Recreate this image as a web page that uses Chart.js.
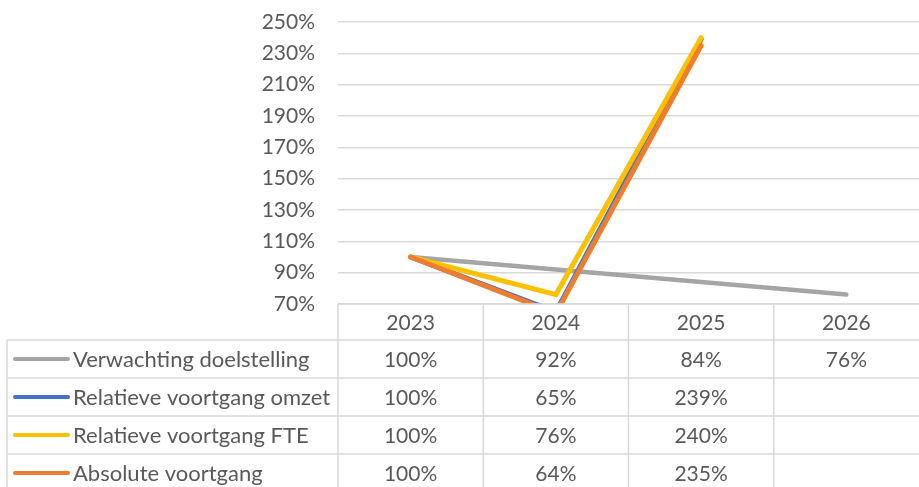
<!DOCTYPE html>
<html>
<head>
<meta charset="utf-8">
<script src="https://cdn.jsdelivr.net/npm/chart.js@4"></script>
<style>
  html, body { margin: 0; padding: 0; background: #fff; }
  #wrap { width: 919px; height: 487px; }
</style>
</head>
<body>
<div id="wrap"><canvas id="myChart" width="919" height="487"></canvas></div>
<script>
// data
var years = ["2023", "2024", "2025", "2026"];
var seriesNames = ["Verwachting doelstelling", "Relatieve voortgang omzet", "Relatieve voortgang FTE", "Absolute voortgang"];
var verwachting = [100, 92, 84, 76];
var omzet = [100, 65, 239, null];
var fte = [100, 76, 240, null];
var absoluut = [100, 64, 235, null];
var yTicks = [70, 90, 110, 130, 150, 170, 190, 210, 230, 250];

var colors = ["#A5A5A5", "#4472C4", "#FFC000", "#ED7D31"];
var textColor = "#595959";
var lineColor = "#D9D9D9";
var fontFam = "Lato, 'Liberation Sans', sans-serif";

// table under the plot, like the excel data table
var dataTable = {
	id: "dataTable",
	afterDraw: function(chart) {
		var ctx = chart.ctx;
		var x = chart.scales.x;
		var area = chart.chartArea;
		var all = [verwachting, omzet, fte, absoluut];
		var top = area.bottom;
		var headH = 36, rowH = 38;
		var left = 7, right = chart.width;
		ctx.save();
		ctx.strokeStyle = lineColor;
		ctx.lineWidth = 1.5;
		// horizontal lines
		ctx.beginPath();
		ctx.moveTo(area.left, top); ctx.lineTo(right, top);
		for (var r = 0; r < 4; r++) {
			var yy = top + headH + r * rowH;
			ctx.moveTo(left, yy); ctx.lineTo(right, yy);
		}
		// vertical lines
		ctx.moveTo(left, top + headH); ctx.lineTo(left, chart.height);
		ctx.moveTo(area.left, top); ctx.lineTo(area.left, chart.height);
		for (var i = 1; i < years.length; i++) {
			var xx = (x.getPixelForValue(i - 1) + x.getPixelForValue(i)) / 2;
			ctx.moveTo(xx, top); ctx.lineTo(xx, chart.height);
		}
		ctx.stroke();

		ctx.fillStyle = textColor;
		ctx.font = "21px " + fontFam;
		ctx.textAlign = "center";
		ctx.textBaseline = "middle";
		for (var i = 0; i < years.length; i++) {
			ctx.fillText(years[i], x.getPixelForValue(i), top + headH / 2 + 1);
		}
		for (var s = 0; s < all.length; s++) {
			var cy = top + headH + s * rowH + rowH / 2 + 1;
			ctx.font = "21px " + fontFam;
			for (var i = 0; i < years.length; i++) {
				if (all[s][i] !== null) {
					ctx.fillText(all[s][i] + "%", x.getPixelForValue(i), cy);
				}
			}
			// legend key
			ctx.strokeStyle = colors[s];
			ctx.lineWidth = 4;
			ctx.lineCap = "round";
			ctx.beginPath();
			ctx.moveTo(15, cy - 1); ctx.lineTo(68, cy - 1);
			ctx.stroke();
			ctx.textAlign = "left";
			ctx.font = "22px " + fontFam;
			ctx.fillText(seriesNames[s], 73, cy);
			ctx.textAlign = "center";
		}
		ctx.restore();
	}
};

function makeSet(i, d) {
	return {
		label: seriesNames[i],
		data: d,
		order: 3 - i,
		borderColor: colors[i],
		backgroundColor: colors[i],
		borderWidth: i == 0 ? 4.5 : 5,
		borderCapStyle: "round",
		pointRadius: 0,
		fill: false,
		spanGaps: false
	};
}

new Chart("myChart", {
	type: "line",
	data: {
		labels: years,
		datasets: [makeSet(0, verwachting), makeSet(1, omzet), makeSet(2, fte), makeSet(3, absoluut)]
	},
	options: {
		responsive: false,
		animation: false,
		layout: { padding: { top: 22, bottom: 183, left: 0, right: -4 } },
		plugins: { legend: { display: false }, tooltip: { enabled: false } },
		scales: {
			x: { display: false, offset: true },
			y: {
				min: 70, max: 250,
				afterFit: function(scale) {
					scale.width = 338;
					scale.paddingTop = 12;
					scale.paddingBottom = 12;
				},
				afterBuildTicks: function(scale) {
					scale.ticks = yTicks.map(function(v) { return { value: v }; });
				},
				border: { display: false },
				grid: { color: lineColor, lineWidth: 1.5, drawTicks: false },
				ticks: {
					color: textColor,
					padding: 23,
					font: { family: fontFam, size: 21 },
					callback: function(v) { return v + "%"; }
				}
			}
		}
	},
	plugins: [dataTable]
});
</script>
</body>
</html>
